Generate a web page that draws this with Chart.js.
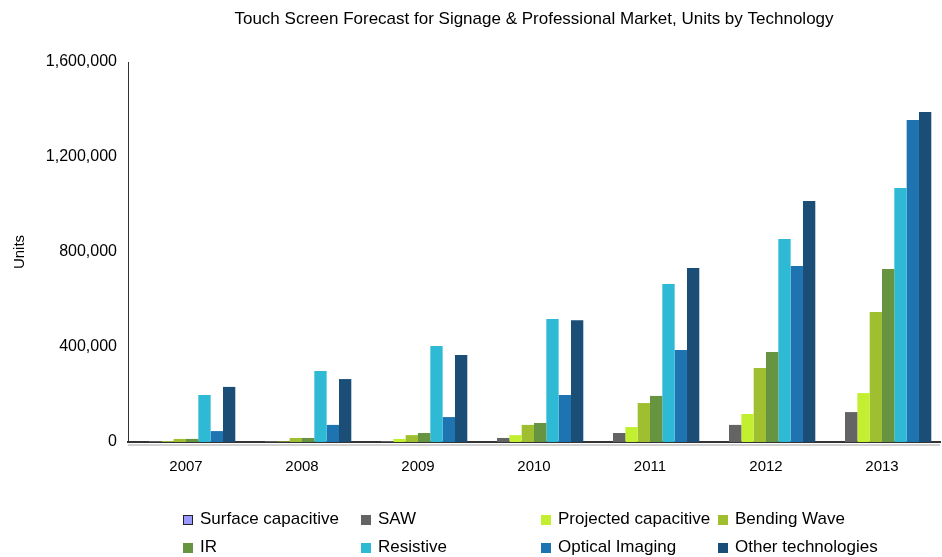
<!DOCTYPE html>
<html>
<head>
<meta charset="utf-8">
<script src="https://cdn.jsdelivr.net/npm/chart.js@4/dist/chart.umd.min.js"></script>
<style>
  html, body { margin: 0; padding: 0; background: #fff; }
  #wrap { position: relative; width: 942px; height: 557px; }
  #chart { position: absolute; left: 0; top: 0; }
  .lg { position: absolute; font: 17px "Liberation Sans", Arial, sans-serif; color: #000; white-space: nowrap; line-height: 20px; }
  .lg i { display: inline-block; width: 10px; height: 10px; margin-right: 7px; vertical-align: -1px; box-sizing: border-box; }
</style>
</head>
<body>
<div id="wrap">
  <canvas id="chart" width="942" height="557"></canvas>
</div>
<script>
/* ---------- data ---------- */
const years = ["2007", "2008", "2009", "2010", "2011", "2012", "2013"];
const seriesNames = ["Surface capacitive", "SAW", "Projected capacitive", "Bending Wave",
                     "IR", "Resistive", "Optical Imaging", "Other technologies"];
const surfaceCap = [0, 0, 0, 0, 0, 0, 0];
const saw        = [4000, 4000, 4000, 17000, 38000, 72000, 126000];
const projCap    = [3000, 2000, 13000, 29000, 63000, 118000, 206000];
const bendWave   = [13000, 17000, 29000, 72000, 164000, 312000, 547000];
const ir         = [13000, 17000, 38000, 80000, 194000, 379000, 728000];
const resistive  = [198000, 299000, 404000, 518000, 665000, 855000, 1069000];
const optical    = [46000, 72000, 105000, 198000, 387000, 741000, 1356000];
const otherTech  = [232000, 265000, 366000, 513000, 733000, 1015000, 1389000];
const yTicks = [0, 400000, 800000, 1200000, 1600000];

const colors = ["#9999ff", "#646464", "#c2f030", "#a0bf30", "#679440", "#2ebad4", "#1e74b1", "#1b4e77"];
const seriesData = [surfaceCap, saw, projCap, bendWave, ir, resistive, optical, otherTech];

const FONT = "'Liberation Sans', Arial, sans-serif";

/* x-axis line shadow */
const axisShadow = {
  id: "axisShadow",
  afterDraw(chart){
    const a = chart.chartArea, ctx = chart.ctx;
    ctx.save();
    ctx.strokeStyle = "rgba(0,0,0,0.18)";
    ctx.lineWidth = 2;
    ctx.beginPath();
    ctx.moveTo(a.left, a.bottom + 3);
    ctx.lineTo(a.right, a.bottom + 3);
    ctx.stroke();
    ctx.restore();
  }
};

new Chart(document.getElementById("chart"), {
  type: "bar",
  data: {
    labels: years,
    datasets: seriesNames.map((n, i) => ({
      label: n,
      data: seriesData[i],
      backgroundColor: colors[i],
      borderWidth: 0,
      categoryPercentage: 0.85,
      barPercentage: 1.0
    }))
  },
  options: {
    responsive: false,
    animation: false,
    layout: { padding: { left: 0, right: 2, top: 0, bottom: 0 } },
    plugins: {
      legend: { display: false },
      tooltip: { enabled: false },
      title: {
        display: true,
        text: "Touch Screen Forecast for Signage & Professional Market, Units by Technology",
        color: "#000",
        fullSize: false,
        font: { family: FONT, size: 17, weight: "normal" },
        padding: { top: 9, bottom: 32.6 }
      }
    },
    scales: {
      x: {
        grid: { display: false, drawTicks: false },
        border: { display: true, color: "#333", width: 2 },
        ticks: { color: "#000", padding: 16, font: { family: FONT, size: 15 } },
        afterFit(scale){ scale.height = 115; }
      },
      y: {
        min: 0,
        max: 1600000,
        afterBuildTicks(scale){ scale.ticks = yTicks.map(v => ({ value: v })); },
        grid: { display: false, drawTicks: false },
        border: { display: true, color: "#333", width: 1 },
        ticks: {
          color: "#000", padding: 11,
          font: { family: FONT, size: 16 },
          callback: v => v.toLocaleString("en-US")
        },
        title: {
          display: true, text: "Units", color: "#000",
          font: { family: FONT, size: 15 },
          padding: { top: 11, bottom: 0 }
        },
        afterFit(scale){ scale.width = 128; }
      }
    }
  },
  plugins: [axisShadow]
});

/* ---------- legend (two rows, four columns) ---------- */
const legendCols = [183, 361, 541, 718];
const legendRows = [509, 537];
const wrap = document.getElementById("wrap");
seriesNames.forEach((n, i) => {
  const d = document.createElement("div");
  d.className = "lg";
  d.style.left = legendCols[i % 4] + "px";
  d.style.top = legendRows[Math.floor(i / 4)] + "px";
  const box = document.createElement("i");
  box.style.background = colors[i];
  if (i === 0) box.style.border = "1px solid #222";
  d.appendChild(box);
  d.appendChild(document.createTextNode(n));
  wrap.appendChild(d);
});
</script>
</body>
</html>
